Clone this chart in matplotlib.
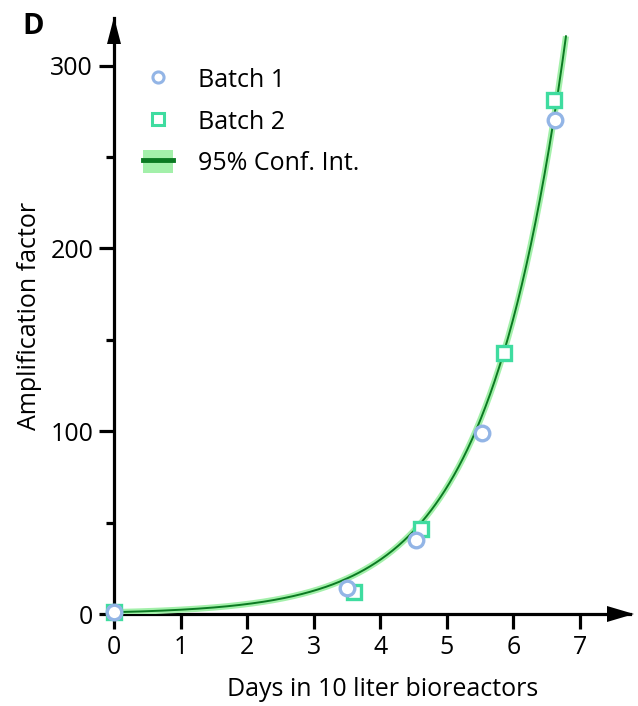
import numpy as np
import matplotlib
matplotlib.use("Agg")
import matplotlib.pyplot as plt
from matplotlib.lines import Line2D
from matplotlib.patches import Patch, Polygon

plt.rcParams['font.family'] = ['Open Sans', 'DejaVu Sans']

# Data
batch1_days = [0.0, 3.5, 4.53, 5.53, 6.62]
batch1_amp = [1.0, 14.0, 40.5, 99.0, 270.0]
batch2_days = [0.0, 3.6, 4.61, 5.86, 6.61]
batch2_amp = [1.0, 12.0, 46.5, 143.0, 281.0]
x_ticks = [0, 1, 2, 3, 4, 5, 6, 7]
y_ticks = [0, 100, 200, 300]

# exponential fit y = exp(k x), least squares in linear space
xs = np.array(batch1_days + batch2_days)
ys = np.array(batch1_amp + batch2_amp)
ks = np.linspace(0.5, 1.2, 7001)
sse = [np.sum((ys - np.exp(k * xs)) ** 2) for k in ks]
k_fit = ks[int(np.argmin(sse))]
x_end = np.log(316) / k_fit
xc = np.linspace(0, x_end, 400)
yc = np.exp(k_fit * xc)

c_blue = '#93b5e6'
c_mint = '#3fdca0'
c_line = '#0b7a22'
c_band = '#a3f0aa'

W, H = 638, 706
fig = plt.figure(figsize=(W / 100, H / 100), dpi=100)
ax = fig.add_axes([114/W, 92/H, (630-114)/W, (614-18)/H])
ax.set_xlim(0, 7.75)
ax.set_ylim(0, 326)

ax.plot(xc, yc, color=c_band, lw=4.5, solid_capstyle='butt', zorder=2)
ax.plot(xc, yc, color=c_line, lw=1.4, zorder=3)
ax.plot(batch2_days, batch2_amp, 's', ms=10.5, mfc='white', mec=c_mint, mew=2.4,
        zorder=4, clip_on=False)
ax.plot(batch1_days, batch1_amp, 'o', ms=10.5, mfc='white', mec=c_blue, mew=2.4,
        zorder=5, clip_on=False)

for s in ['top', 'right']:
    ax.spines[s].set_visible(False)
for s in ['left', 'bottom']:
    ax.spines[s].set_linewidth(2.3)
    ax.spines[s].set_zorder(1)

def fpt(px, py):
    return (px / W, 1 - py / H)

fig.patches.append(Polygon([fpt(114, 17), fpt(107, 44), fpt(121, 44)], closed=True,
                           facecolor='black', edgecolor='none', transform=fig.transFigure))
fig.patches.append(Polygon([fpt(634, 614), fpt(607, 606), fpt(607, 622)], closed=True,
                           facecolor='black', edgecolor='none', transform=fig.transFigure))

ax.set_xticks(x_ticks)
ax.set_yticks(y_ticks)
ax.set_yticks([50, 150, 250], minor=True)
ax.tick_params(axis='both', which='major', length=11, width=2.3, labelsize=18, pad=4)
ax.tick_params(axis='y', which='minor', length=5.5, width=2.3)

ax.set_xlabel('Days in 10 liter bioreactors', fontsize=18, labelpad=11)
ax.xaxis.set_label_coords(0.52, -0.105)
ax.set_ylabel('Amplification factor', fontsize=18, labelpad=6)

h1 = Line2D([], [], marker='o', ls='none', ms=8, mfc='white', mec=c_blue, mew=2.2)
h2 = Line2D([], [], marker='s', ls='none', ms=8, mfc='white', mec=c_mint, mew=2.2)
h3 = (Patch(facecolor=c_band, edgecolor='none'), Line2D([], [], color=c_line, lw=3.5))
ax.legend([h1, h2, h3], ['Batch 1', 'Batch 2', '95% Conf. Int.'], loc='upper left',
          bbox_to_anchor=fpt(143, 67), bbox_transform=fig.transFigure,
          borderpad=0, borderaxespad=0, frameon=False, fontsize=18,
          handlelength=1.2, handleheight=1.05, labelspacing=0.62, handletextpad=1.0)

fig.text(22/W, 1 - 34/H, 'D', fontsize=21, fontweight='bold')

fig.savefig('out.png', dpi=100)
